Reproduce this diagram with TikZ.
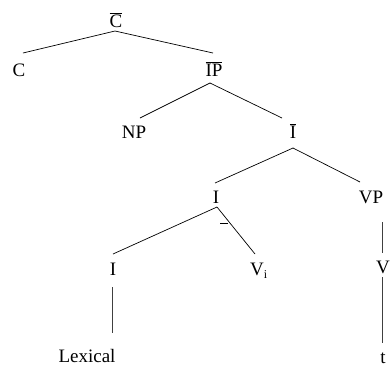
\documentclass[tikz,border=0pt]{standalone}
\usepackage{fontspec}
\setmainfont{Liberation Serif}
\begin{document}
\begin{tikzpicture}[x=1pt,y=-1pt,
  lbl/.style={inner sep=0pt, anchor=base, font=\fontsize{19}{22}\selectfont},
  edge/.style={line width=0.7pt, black},
  vedge/.style={line width=0.6pt, black!75}]
\useasboundingbox (0,0) rectangle (390,368);
% nodes (positions are baselines)
\node[lbl] (cbar)  at (116,27)  {$\overline{\hbox{C}}$};
\node[lbl] (c)     at (19,76)   {C};
\node[lbl] (ipbar) at (214,76)  {$\overline{\hbox{IP}}$};
\node[lbl] (np)    at (134,138) {NP};
\node[lbl] (ibar)  at (293,138) {$\overline{\hbox{I}}$};
\node[lbl] (itwo)  at (216,203) {I};
\node[lbl] (vp)    at (371,203) {VP};
\node[lbl] (ithree) at (113,275) {I};
\node[lbl, anchor=base west] (vi) at (250,275) {V\raisebox{-0.35ex}{\fontsize{12}{12}\selectfont i}};
\node[lbl] (v)     at (383,273) {V};
\node[lbl] (lex)   at (87,362)  {Lexical};
\node[lbl] (t)     at (383,363) {t};
% connectors
\draw[edge] ([shift={(-1,4)}]cbar.base) -- ([shift={(4,-23)}]c.base);
\draw[edge] ([shift={(-1,4)}]cbar.base) -- ([shift={(-1,-23)}]ipbar.base);
\draw[edge] ([shift={(-4,7)}]ipbar.base) -- ([shift={(6,-20)}]np.base);
\draw[edge] ([shift={(-4,7)}]ipbar.base) -- ([shift={(-11,-20)}]ibar.base);
\draw[edge] ([shift={(0,10)}]ibar.base) -- ([shift={(-1,-20)}]itwo.base);
\draw[edge] ([shift={(0,10)}]ibar.base) -- ([shift={(-11,-21)}]vp.base);
\draw[edge] ([shift={(1,4)}]itwo.base) -- ([shift={(0,-21)}]ithree.base);
\draw[edge] ([shift={(1,4)}]itwo.base) -- ([shift={(5,-21)}]vi.base west);
\draw[edge] ([shift={(4,20)}]itwo.base) -- ([shift={(12,20)}]itwo.base);
\draw[vedge] ([shift={(-1,12)}]ithree.base) -- ([shift={(25,-29)}]lex.base);
\draw[vedge] ([shift={(11,19)}]vp.base) -- ([shift={(-1,-20)}]v.base);
\draw[vedge] ([shift={(-1,4)}]v.base) -- ([shift={(-1,-20)}]t.base);
\end{tikzpicture}
\end{document}
